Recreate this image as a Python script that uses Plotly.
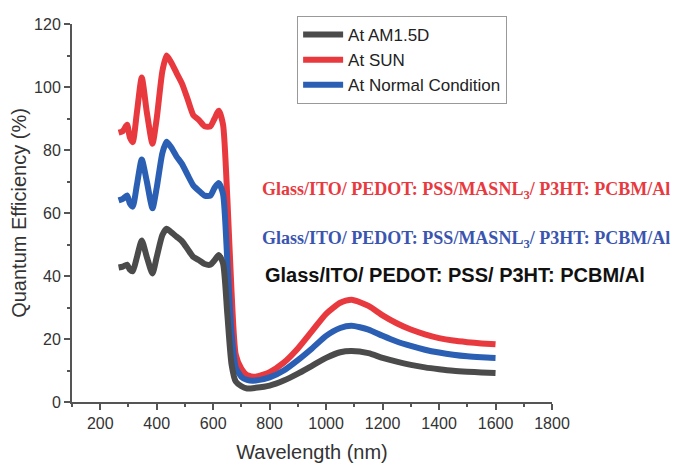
import plotly.graph_objects as go

wavelength = [265, 280, 295, 305, 315, 330, 347, 365, 385, 400, 420, 435, 450, 470, 490, 510, 530, 550, 570, 590,
              605, 620, 635, 650, 665, 680, 700, 720, 750, 800, 850, 900, 950, 1000, 1050, 1090, 1150, 1200, 1250,
              1300, 1350, 1400, 1450, 1500, 1550, 1600]

qe_sun = [85.5, 86, 88, 84, 82.5, 92, 103, 92, 82, 90, 105, 110, 108, 104.5, 101, 96, 91, 89.5, 87.5, 87.5,
          90, 92.5, 88, 65, 35, 15, 10.5, 8.5, 8, 9.5, 12.5, 17, 22.5, 28, 31.5, 32.5, 30.5, 27.5, 25,
          23, 21.5, 20.3, 19.5, 19, 18.6, 18.3]

qe_normal = [64, 64.5, 65.6, 63, 62, 69, 77, 70, 61.5, 68, 79, 82.6, 81, 78, 75.5, 72, 68.7, 67, 65.5, 65.5,
             68, 69.5, 66, 45, 22, 11, 8, 7, 6.8, 7.8, 10, 13.3, 17, 21, 23.5, 24.2, 23, 21, 19.2,
             17.8, 16.6, 15.7, 15, 14.5, 14.2, 14]

qe_am15d = [42.7, 43, 43.6, 42, 41.5, 46, 51.3, 46, 40.8, 46, 53, 55, 54, 52.5, 51, 48.5, 46, 45, 43.8, 43.6,
            45, 46.7, 44, 28, 12, 6.5, 5, 4.3, 4.5, 5.2, 6.8, 9, 11.5, 14, 15.8, 16.2, 15.5, 14, 12.8,
            11.8, 11, 10.4, 9.9, 9.6, 9.4, 9.2]

colors = {"At AM1.5D": "#4b4b4b", "At SUN": "#e8393f", "At Normal Condition": "#2b5fb4"}

fig = go.Figure()
fig.add_trace(go.Scatter(x=wavelength, y=qe_sun, name="At SUN", mode="lines", legendrank=2,
                         line=dict(color=colors["At SUN"], width=6, shape="spline", smoothing=0.6)))
fig.add_trace(go.Scatter(x=wavelength, y=qe_normal, name="At Normal Condition", mode="lines", legendrank=3,
                         line=dict(color=colors["At Normal Condition"], width=6, shape="spline", smoothing=0.6)))
fig.add_trace(go.Scatter(x=wavelength, y=qe_am15d, name="At AM1.5D", mode="lines", legendrank=1,
                         line=dict(color=colors["At AM1.5D"], width=6, shape="spline", smoothing=0.6)))

sans = "Liberation Sans, Arial, sans-serif"
serif = "Liberation Serif, Times New Roman, serif"

fig.add_annotation(x=0.392, y=0.56, xref="paper", yref="paper", xanchor="left", yanchor="middle",
                   text="<b>Glass/ITO/ PEDOT: PSS/MASNL<sub>3</sub>/ P3HT: PCBM/Al</b>", showarrow=False,
                   font=dict(family=serif, size=18, color="#e8393f"))
fig.add_annotation(x=0.392, y=0.431, xref="paper", yref="paper", xanchor="left", yanchor="middle",
                   text="<b>Glass/ITO/ PEDOT: PSS/MASNL<sub>3</sub>/ P3HT: PCBM/Al</b>", showarrow=False,
                   font=dict(family=serif, size=18, color="#3a55b0"))
fig.add_annotation(x=0.398, y=0.335, xref="paper", yref="paper", xanchor="left", yanchor="middle",
                   text="<b>Glass/ITO/ PEDOT: PSS/ P3HT: PCBM/Al</b>", showarrow=False,
                   font=dict(family=sans, size=20, color="#111111"))

axis_common = dict(showline=True, linecolor="#555555", linewidth=2, ticks="outside", ticklen=6,
                   tickwidth=2, tickcolor="#555555", showgrid=False, zeroline=False,
                   tickfont=dict(family=sans, size=16, color="#333333"), mirror=False)

fig.update_layout(
    width=679, height=460,
    margin=dict(l=62, r=135, t=8, b=64),
    plot_bgcolor="white", paper_bgcolor="white",
    font=dict(family=sans, color="#333333"),
    xaxis=dict(range=[100, 1800], tickvals=[200, 400, 600, 800, 1000, 1200, 1400, 1600, 1800],
               minor=dict(dtick=100, ticks="outside", ticklen=3, tickcolor="#555555", tickwidth=2),
               title=dict(text="Wavelength (nm)", font=dict(family=sans, size=20, color="#333333"), standoff=14),
               **axis_common),
    yaxis=dict(range=[0, 120], dtick=20,
               minor=dict(dtick=10, ticks="outside", ticklen=3, tickcolor="#555555", tickwidth=2),
               title=dict(text="Quantum Efficiency (%)", font=dict(family=sans, size=20, color="#333333"), standoff=4),
               **axis_common),
    legend=dict(x=0.469, y=1.021, xanchor="left", yanchor="top", bgcolor="white",
                bordercolor="#999999", borderwidth=1, font=dict(family=sans, size=17, color="#222222"),
                tracegroupgap=0, itemwidth=40),
    showlegend=True,
)

fig.write_html("out.html")
